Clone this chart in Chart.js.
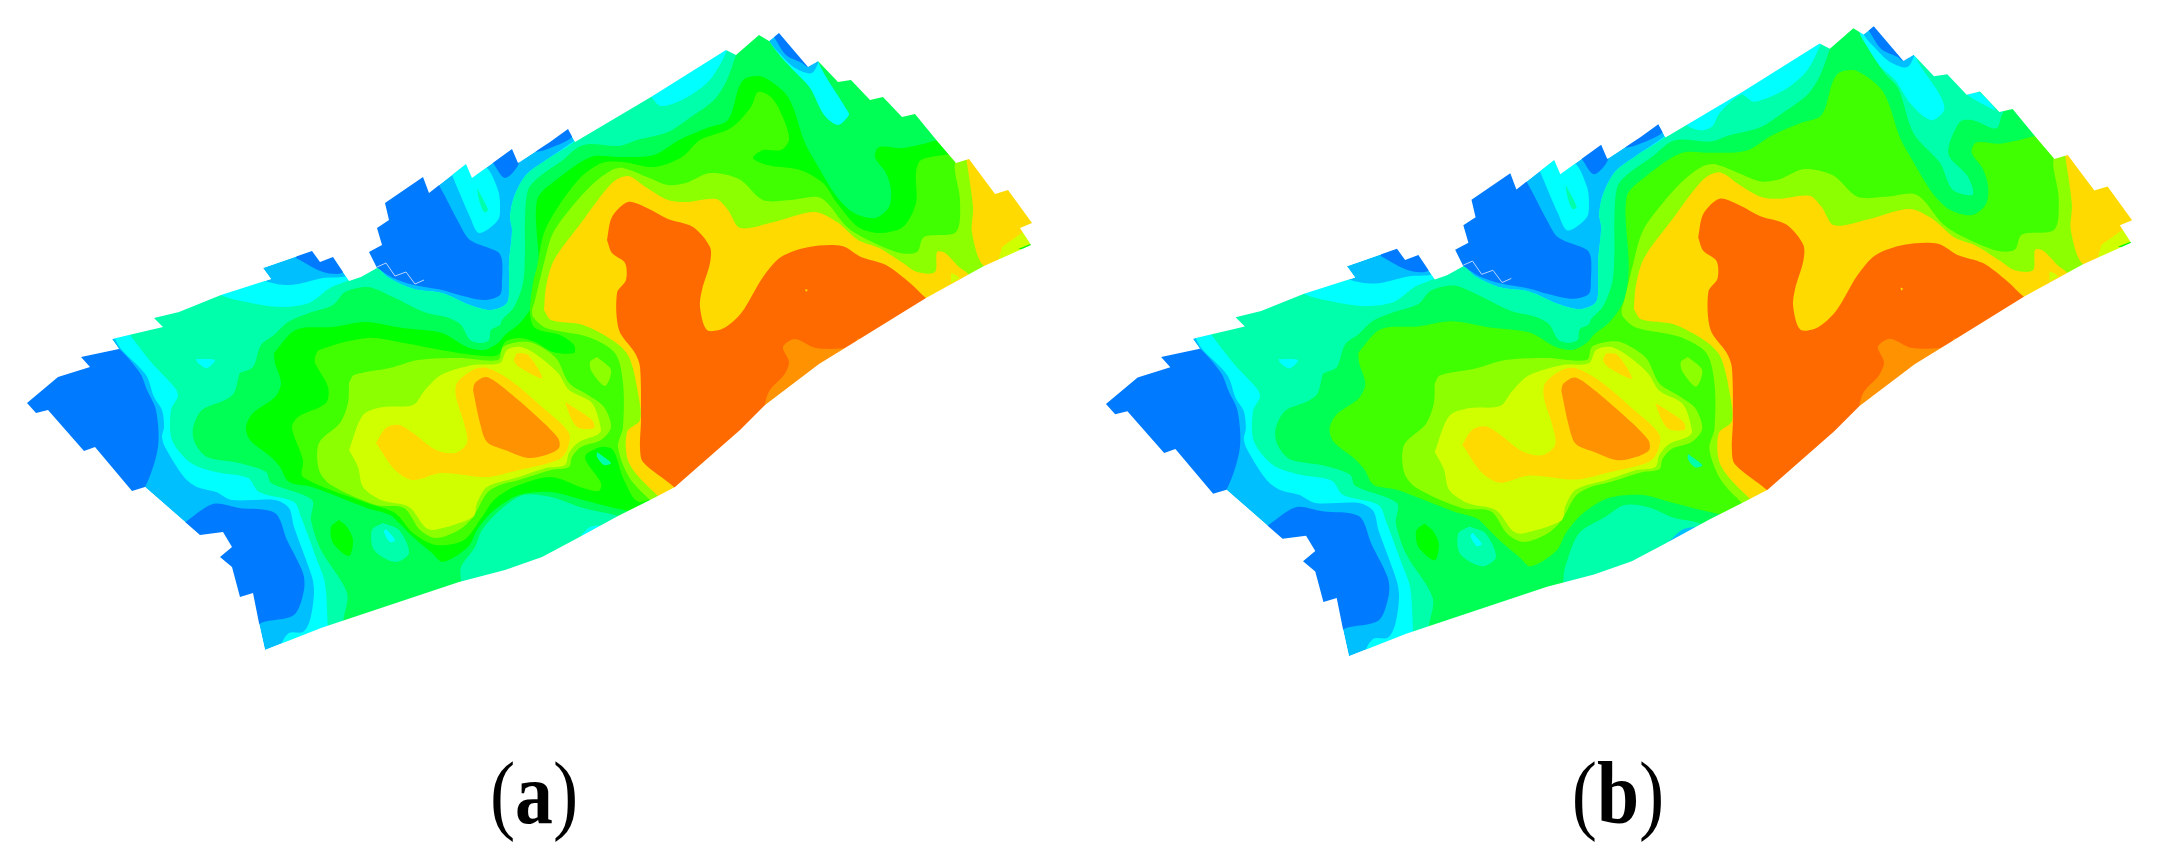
<!DOCTYPE html>
<html><head><meta charset="utf-8">
<style>html,body{margin:0;padding:0;background:#fff}canvas{display:block}</style>
<script src="https://cdn.jsdelivr.net/npm/chart.js@4"></script>
</head><body><canvas id="c" width="2157" height="861"></canvas>
<script>
const panelLabels=['a','b'];
const C={blue:'#007BFF',sky:'#00BFFF',cyan:'#00FFFF',mint:'#00FFAA',spring:'#00FF55',green:'#00FF00',lime:'#40FF00',chart:'#8CFF00',yg:'#D0FF00',gold:'#FFDA00',orange:'#FF9200',deep:'#FF6A00'};
const outline=[[27,403],[58,377],[90,367],[81,357],[119,349],[112,339],[163,327],[154,318],[179,312],[221,295],[271,279],[263,268],[312,251],[320,262],[333,257],[349,281],[361,277],[377,268],[369,252],[382,245],[377,228],[389,220],[385,203],[423,177],[429,193],[466,164],[472,178],[512,149],[518,163],[550,142],[568,129],[575,142],[651,97],[726,50],[736,55],[759,35],[769,41],[779,33],[808,67],[818,61],[838,82],[851,80],[870,100],[883,97],[902,117],[915,114],[938,142],[956,163],[969,159],[995,194],[1008,190],[1032,223],[1020,228],[1031,245],[984,266],[926,298],[858,340],[819,364],[765,405],[740,430],[675,487],[650,500],[618,516],[574,540],[542,557],[505,570],[459,582],[390,605],[321,628],[265,650],[259,623],[253,593],[240,597],[232,567],[220,557],[232,547],[223,532],[200,535],[145,487],[132,491],[95,447],[84,451],[48,410],[36,413]];
const blue1=[[100,340],[118,348],[140,373],[147,390],[156,410],[158,447],[145,487],[130,500],[40,430],[15,400],[50,360]];
const blue2=[[184,523],[213,504],[239,508],[275,513],[287,540],[303,573],[304,590],[294,615],[261,623],[250,635],[215,570],[190,545]];
const blue3=[[377,268],[393,278],[414,285],[442,290],[459,295],[484,300],[500,295],[502,280],[502,260],[498,252],[470,240],[459,223],[440,187],[430,172],[380,190],[360,250],[370,265]];
const blue4=[[296,258],[323,272],[342,273],[348,262],[320,245],[300,248]];
const blue5=[[493,163],[505,178],[519,163],[515,145],[490,155]];
const blue6=[[535,152],[568,126],[572,137],[545,150]];
const blue7=[[774,37],[786,55],[802,63],[808,67],[815,60],[782,28]];
const cyanUp=[[114,337],[121,349],[146,375],[154,397],[162,410],[164,427],[162,437],[165,447],[184,477],[197,487],[216,492],[232,500],[275,500],[289,508],[294,527],[312,577],[314,593],[310,620],[303,632],[289,633],[281,645],[280,658],[460,600],[620,540],[760,420],[900,320],[1045,240],[1045,215],[1015,180],[930,105],[885,85],[825,55],[812,73],[795,68],[781,55],[769,41],[765,30],[650,90],[580,132],[575,140],[546,160],[526,175],[514,197],[510,217],[512,230],[509,263],[509,283],[507,303],[491,310],[470,305],[442,293],[414,289],[389,278],[377,268],[360,265],[347,276],[323,278],[291,285],[265,281],[255,272],[220,285],[150,312],[110,330]];
const cyanPocket=[[452,175],[466,160],[487,168],[498,190],[500,203],[498,220],[479,233],[470,217]];
const mintSpot=[[477,188],[488,210],[484,212],[479,200]];
const mintA=[[130,335],[151,362],[175,388],[178,396],[171,410],[172,440],[191,463],[216,472],[248,478],[259,492],[294,502],[301,517],[317,560],[325,583],[328,628],[330,645],[470,605],[620,530],[760,425],[930,305],[1045,240],[1045,215],[1015,175],[930,105],[860,68],[826,54],[818,61],[847,110],[849,115],[838,125],[824,115],[810,88],[795,72],[781,57],[769,41],[764,30],[745,28],[730,42],[728,48],[721,63],[707,83],[682,100],[661,106],[651,97],[645,90],[610,112],[582,128],[575,141],[546,160],[526,175],[514,197],[510,217],[512,230],[509,263],[509,283],[507,303],[491,310],[470,305],[442,293],[414,289],[389,278],[377,268],[365,270],[349,280],[330,288],[309,303],[281,307],[246,302],[221,295],[215,285],[150,308],[126,326]];
const mintB=[[130,335],[151,362],[175,388],[178,396],[171,410],[172,440],[191,463],[216,472],[248,478],[259,492],[294,502],[301,517],[317,560],[325,583],[328,628],[330,645],[470,605],[620,530],[760,425],[930,305],[1045,240],[1045,215],[1015,175],[930,105],[860,68],[826,54],[820,63],[843,99],[848,115],[835,125],[815,109],[800,86],[781,68],[766,43],[762,30],[745,28],[730,42],[727,51],[714,76],[692,95],[662,107],[649,100],[628,118],[621,131],[611,135],[597,131],[590,122],[578,130],[575,141],[546,160],[526,175],[514,197],[510,217],[512,230],[509,263],[509,283],[507,303],[491,310],[470,305],[442,293],[414,289],[389,278],[377,268],[365,270],[349,280],[330,288],[309,303],[281,307],[246,302],[221,295],[215,285],[150,308],[126,326]];
const cyanWest=[[196,359],[215,360],[207,368],[198,363]];
const cyanNeA=[[883,97],[895,108],[905,112],[895,90]];
const cyanNeB=[[870,100],[882,98],[898,115],[885,109]];
const cyanSouth=[[581,535],[590,527],[601,526],[596,535]];
const skySouth=[[578,538],[592,526],[606,524],[600,535]];
const springA=[[239,375],[234,393],[225,400],[202,410],[193,428],[195,443],[207,457],[239,463],[266,472],[271,483],[312,500],[311,520],[321,550],[347,593],[343,623],[345,640],[461,590],[461,582],[461,567],[475,547],[482,530],[500,510],[523,495],[551,497],[583,508],[618,516],[628,522],[760,425],[930,305],[1045,240],[1045,215],[1015,175],[930,105],[860,68],[826,54],[818,61],[847,110],[849,115],[838,125],[824,115],[810,88],[795,72],[781,57],[769,41],[764,30],[745,28],[736,55],[726,82],[714,100],[691,117],[668,132],[637,140],[619,146],[589,144],[577,148],[563,160],[539,177],[528,190],[525,220],[525,253],[523,283],[514,307],[502,320],[500,325],[491,330],[489,340],[481,343],[470,340],[461,325],[449,318],[424,312],[393,297],[368,287],[345,292],[333,305],[309,313],[288,322],[274,335],[261,345],[253,367],[240,373]];
const springB=[[239,375],[234,393],[225,400],[202,410],[193,428],[195,443],[207,457],[239,463],[266,472],[271,483],[312,500],[311,520],[321,550],[347,593],[343,623],[345,640],[475,585],[475,575],[477,562],[490,530],[517,513],[535,502],[558,504],[585,515],[609,520],[620,530],[760,425],[930,305],[1045,240],[1045,215],[1000,160],[925,103],[906,117],[899,133],[876,125],[863,127],[852,158],[871,180],[876,198],[856,193],[844,167],[818,138],[803,94],[789,78],[766,42],[762,30],[745,28],[736,55],[726,82],[714,100],[691,117],[668,132],[637,140],[619,146],[589,144],[577,148],[563,160],[539,177],[528,190],[525,220],[525,253],[523,283],[514,307],[502,320],[500,325],[491,330],[489,340],[481,343],[470,340],[461,325],[449,318],[424,312],[393,297],[368,287],[345,292],[333,305],[309,313],[288,322],[274,335],[261,345],[253,367],[240,373]];
const mintIsland=[[383,523],[372,530],[374,550],[395,562],[409,553],[399,530]];
const cyanIsland=[[386,529],[395,540],[390,542],[384,532]];
const greenIsland=[[339,520],[331,527],[333,543],[349,556],[353,540],[347,527]];
const mid=[[274,353],[291,333],[302,328],[333,327],[365,322],[403,328],[442,333],[467,347],[484,350],[498,343],[505,335],[521,322],[535,300],[539,267],[537,200],[556,180],[591,157],[619,157],[654,155],[679,140],[707,128],[728,120],[739,87],[746,78],[763,77],[788,97],[805,143],[816,163],[837,197],[854,213],[875,218],[889,207],[891,190],[886,173],[875,157],[879,147],[903,148],[938,140],[950,135],[1045,235],[1040,260],[740,440],[640,510],[624,510],[583,500],[551,492],[519,495],[498,507],[487,517],[477,530],[468,547],[443,562],[432,553],[413,537],[399,523],[390,515],[367,508],[312,487],[289,482],[280,467],[271,457],[250,440],[246,427],[253,413],[275,397],[281,383],[275,363]];
const limeA=[[315,357],[319,350],[367,338],[404,343],[441,350],[473,355],[498,355],[505,342],[519,338],[535,342],[553,352],[574,353],[574,345],[560,335],[535,328],[530,313],[533,283],[537,267],[544,233],[558,207],[581,177],[602,163],[623,162],[654,167],[682,157],[700,140],[731,128],[751,107],[758,92],[772,98],[784,120],[789,140],[781,150],[763,150],[753,158],[767,165],[800,170],[823,183],[837,203],[858,227],[879,233],[903,227],[916,203],[916,173],[921,160],[949,154],[960,150],[1045,235],[940,310],[700,470],[640,502],[624,480],[613,450],[601,447],[585,457],[601,483],[599,491],[583,488],[551,477],[514,487],[494,500],[482,517],[464,540],[436,545],[413,533],[395,513],[367,503],[303,477],[303,460],[292,428],[298,417],[326,403],[328,387],[315,363]];
const mintEast=[[597,452],[611,463],[604,465],[597,457]];
const chartEast=[[532,310],[535,300],[544,263],[553,233],[575,203],[595,182],[612,170],[623,168],[647,177],[668,185],[686,183],[710,173],[739,179],[763,200],[791,200],[821,198],[847,227],[868,240],[900,253],[917,252],[924,237],[956,232],[960,200],[955,163],[969,155],[1000,180],[1045,240],[1000,280],[700,470],[655,503],[650,500],[629,477],[618,447],[623,427],[623,383],[615,353],[588,337],[546,328],[533,317]];
const chartIsland=[[597,357],[611,370],[605,386],[592,372],[590,362]];
const chartDome=[[349,383],[354,375],[390,368],[418,360],[459,358],[498,360],[503,347],[519,342],[533,343],[556,358],[569,383],[588,395],[604,407],[611,427],[601,440],[581,447],[572,457],[569,467],[551,470],[519,480],[500,485],[487,493],[473,517],[459,530],[436,538],[420,530],[404,508],[376,505],[331,485],[319,470],[319,443],[340,423],[348,403]];
const ygDome=[[349,450],[363,415],[383,407],[413,405],[425,390],[441,375],[473,365],[500,363],[507,350],[521,347],[537,355],[558,373],[569,390],[592,403],[601,430],[597,435],[579,442],[569,453],[565,465],[546,468],[519,477],[487,487],[477,503],[473,517],[434,530],[425,527],[409,507],[381,500],[363,487],[358,467]];
const goldDome=[[376,443],[386,428],[399,425],[413,433],[436,450],[455,453],[467,443],[464,423],[456,397],[457,383],[473,370],[487,368],[510,380],[542,407],[569,433],[567,450],[558,460],[519,470],[487,477],[441,473],[413,480],[395,470]];
const goldSpotN=[[517,353],[528,355],[542,378],[519,367],[514,360]];
const goldSpotE=[[565,402],[592,420],[594,428],[579,428],[572,420]];
const orangeDome=[[473,390],[475,383],[486,377],[500,385],[533,413],[558,438],[559,448],[546,455],[528,458],[505,450],[487,442],[480,423]];
const goldMain=[[544,310],[546,287],[554,260],[581,223],[612,183],[628,176],[647,188],[668,200],[686,202],[716,199],[728,210],[740,228],[774,222],[814,212],[837,222],[858,240],[879,248],[903,263],[917,272],[935,272],[937,252],[945,253],[959,267],[968,274],[975,290],[700,480],[665,497],[657,495],[629,463],[627,432],[640,420],[638,393],[629,357],[615,342],[583,325],[551,320]];
const goldNe=[[965,150],[973,207],[972,233],[984,266],[1010,262],[1045,230],[1000,170]];
const ygTip=[[998,262],[1002,247],[1023,232],[1035,245],[1020,250]];
const ygSmall=[[951,273],[956,275],[960,278],[951,283]];
const greenTip=[[1018,249],[1033,243],[1033,250]];
const deep=[[607,240],[612,217],[628,202],[647,208],[668,219],[693,227],[710,247],[710,263],[702,290],[700,307],[707,330],[724,328],[742,312],[763,277],[781,257],[809,247],[842,246],[861,257],[886,265],[910,283],[926,298],[945,310],[870,360],[800,415],[740,470],[690,505],[674,487],[643,462],[640,447],[641,420],[640,367],[635,353],[619,330],[617,293],[626,280],[625,263],[612,253]];
const orangeSouth=[[858,338],[851,347],[816,348],[795,339],[783,347],[789,362],[784,375],[770,390],[765,405],[768,425],[880,350]];
const goldDot=[[805,289],[808,290],[806,292]];
const zigzag=[[377,267],[386,263],[395,276],[406,272],[415,284],[424,280]];
const frameA=[[-5,-5],[1065,-5],[1065,870],[-5,870]];
const frameB=[[-14,0],[1062,0],[1062,860],[-14,860]];

const toPts=a=>a.map(p=>({x:p[0],y:p[1]}));
function poly(a,color,panel,tension=0.3){
  const pts=toPts(a.concat([a[0]]));
  return {data:pts,fill:'shape',backgroundColor:color,borderColor:'transparent',borderWidth:0,pointRadius:0,tension,xAxisID:'x'+panel,yAxisID:'y'+panel};
}
function mask(frame,panel){
  const rev=outline.slice().reverse();
  const pts=frame.concat([frame[0]],rev,[rev[0]],[frame[0]]);
  return {data:toPts(pts),fill:'shape',backgroundColor:'#fff',borderColor:'transparent',borderWidth:0,pointRadius:0,tension:0,xAxisID:'x'+panel,yAxisID:'y'+panel};
}
function panelLayers(p){
  const a=p==='A';
  const L=[];
  const add=(arr,c,t)=>L.push(poly(arr,c,p,t));
  add(outline,C.sky,0);
  [blue1,blue2,blue3,blue4,blue5,blue6,blue7].forEach(b=>add(b,C.blue));
  add(cyanUp,C.cyan);
  add(cyanPocket,C.cyan);add(mintSpot,C.mint);
  add(a?mintA:mintB,C.mint);
  add(cyanWest,C.cyan);add(a?cyanNeA:cyanNeB,C.cyan);
  add(a?cyanSouth:skySouth,a?C.cyan:C.sky);
  add(a?springA:springB,C.spring);
  add(mintIsland,C.mint);add(cyanIsland,C.cyan);add(greenIsland,C.green);
  add(mid,a?C.green:C.lime);
  if(a)add(limeA,C.lime);
  add(mintEast,C.mint);
  add(chartEast,C.chart);add(chartIsland,C.chart);add(chartDome,C.chart);
  add(ygDome,C.yg);
  add(goldDome,C.gold);add(goldSpotN,C.gold);add(goldSpotE,C.gold);
  add(orangeDome,C.orange);
  add(goldMain,C.gold);add(goldNe,C.gold);
  add(ygTip,C.yg,0);add(ygSmall,C.yg,0);add(greenTip,C.green,0);
  add(deep,C.deep);add(orangeSouth,C.orange);add(goldDot,C.gold,0);
  L.push(mask(a?frameA:frameB,p));
  L.push({data:toPts(zigzag),fill:false,borderColor:'#b9d4ff',borderWidth:1,pointRadius:0,tension:0,xAxisID:'x'+p,yAxisID:'y'+p});
  return L;
}
const datasets=[...panelLayers('A'),...panelLayers('B')].reverse();
const labelPlugin={id:'panelLabels',afterDraw(ch){
  const ctx=ch.ctx,xs=ch.scales.xA,ys=ch.scales.yA;
  const base=ys.getPixelForValue(823),sx=0.86;
  [534,1618].forEach((cx,i)=>{
    const parts=[['(','88px "Liberation Serif"'],[panelLabels[i],'bold 88px "Liberation Serif"'],[')','88px "Liberation Serif"']];
    let w=0;parts.forEach(q=>{ctx.font=q[1];w+=ctx.measureText(q[0]).width;});
    ctx.save();ctx.translate(xs.getPixelForValue(cx)-w*sx/2,base);ctx.scale(sx,1);
    ctx.fillStyle='#000';ctx.textBaseline='alphabetic';
    let x=0;parts.forEach(q=>{ctx.font=q[1];ctx.fillText(q[0],x,0);x+=ctx.measureText(q[0]).width;});
    ctx.restore();
  });
}};
const hidden={display:false,type:'linear'};
new Chart(document.getElementById('c'),{type:'line',data:{datasets},plugins:[labelPlugin],options:{
  responsive:false,animation:false,events:[],
  layout:{padding:0},
  plugins:{legend:{display:false},tooltip:{enabled:false},title:{display:false}},
  scales:{
    xA:{...hidden,axis:'x',min:0,max:2157},
    yA:{...hidden,axis:'y',min:0,max:861,reverse:true},
    xB:{...hidden,axis:'x',min:-1056.2,max:1056.4},
    yB:{...hidden,axis:'y',min:7.3,max:850.6,reverse:true}
  }
}});
</script></body></html>
